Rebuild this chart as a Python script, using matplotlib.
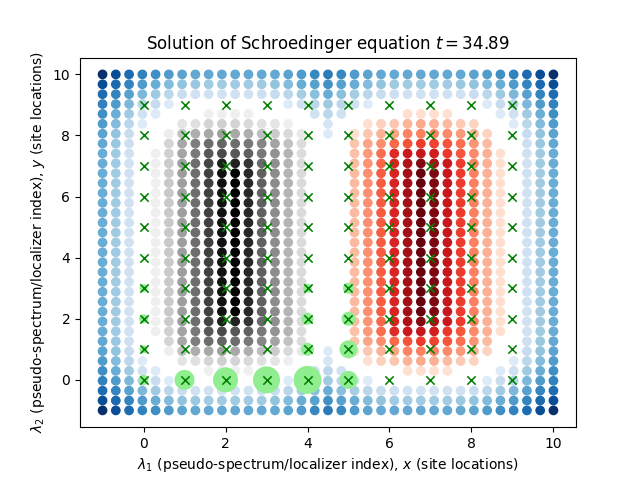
import numpy as np
import matplotlib
matplotlib.use("Agg")
import matplotlib.pyplot as plt

E = "-- -- -- -- -- -- -- -- -- -- -- -- -- -- -- -- -- -- -- -- -- -- -- -- -- -- -- -- --"
MID = "50 36 20 " + E + " 20 36 50"
R7 = "52 38 21 " + E + " 21 38 52"
R6 = "54 40 24 -- -- -- -- -- -- -- -- -- -- -- -- -- -- 13 -- -- -- -- -- -- -- -- -- -- -- -- -- -- 24 40 54"
R5 = "58 44 29 13 -- -- -- -- -- -- -- -- -- -- -- -- -- 16 -- -- -- -- -- -- -- -- -- -- -- -- -- 13 29 44 58"
R4 = "63 50 37 20 13 -- -- -- -- -- -- -- -- -- -- -- 20 28 20 -- -- -- -- -- -- -- -- -- -- -- 13 20 37 50 63"
R3 = "68 58 45 30 24 13 -- -- -- -- -- -- -- -- 13 20 28 37 28 20 13 -- -- -- -- -- -- -- -- 13 24 30 45 58 68"
R2 = "76 67 55 45 37 29 23 20 20 20 20 20 21 24 29 35 42 50 42 35 29 24 21 20 20 20 20 20 23 29 37 45 55 67 76"
R1 = "88 77 67 58 50 44 40 38 36 36 36 36 36 40 44 50 55 62 55 50 44 40 36 36 36 36 36 38 40 44 50 58 67 77 88"
R0 = "99 88 76 68 63 58 54 52 52 52 52 52 52 52 54 58 66 70 66 58 54 52 52 52 52 52 52 52 54 58 63 68 76 88 99"

blue_rows = [R0, R1, R2, R3, R4, R5, R6, R7,
             MID, MID, MID, MID, MID, MID, MID, MID, MID, MID,
             MID, MID, MID, MID, MID, MID, MID, MID, MID,
             R7, R6, R5, R4, R3, R2, R1, R0]

G4 = "-- -- -- -- 13 13 13 13 -- -- -- --"
G5 = "-- -- 19 21 27 29 27 25 21 19 13 --"
G6 = "-- 14 35 42 44 47 44 42 37 31 25 17"
G7 = "-- 27 44 58 64 67 64 60 55 45 35 23"
G8 = "13 29 45 60 72 76 72 69 60 51 40 23"
G9 = "13 31 47 64 78 89 88 82 66 52 40 24"
GM = "13 32 47 64 79 93 99 86 69 53 40 24"
grey_rows = [G4, G5, G6, G7, G8, G9,
             GM, GM, GM, GM, GM, GM, GM, GM, GM, GM, GM, GM, GM, GM, GM,
             G9, G8, G7, G6, G5, G4]

H4 = "-- -- -- -- 13 13 13 12 -- -- -- --"
H5 = "-- 13 18 21 27 30 28 25 20 17 -- --"
H6 = "13 21 28 32 42 43 42 40 35 28 17 --"
H7 = "22 32 39 50 56 62 60 55 48 37 25 --"
H8 = "23 35 48 68 74 76 72 63 55 40 28 13"
H9 = "25 37 50 70 83 93 85 75 62 43 28 13"
HM = "25 38 53 70 87 99 94 76 62 43 28 13"
red_rows = [H4, H5, H6, H7, H8, H9,
            HM, HM, HM, HM, HM, HM, HM, HM, HM, HM, HM, HM, HM, HM, HM,
            H9, H8, H7, H6, H5, H4]

site_x = [0, 1, 2, 3, 4, 5, 0, 4, 5, 0, 4, 5, 0, 4, 5]
site_y = [0, 0, 0, 0, 0, 0, 1, 1, 1, 2, 2, 2, 3, 3, 3]
site_size = [52, 207, 324, 378, 406, 168, 33, 88, 168, 42, 75, 102, 33, 42, 63]
site_labels = list(range(10))

lam = np.linspace(-1, 10, 35)


def draw(ax, rows, col0, row0, cmap):
    xs, ys, vs = [], [], []
    for j, row in enumerate(rows):
        for i, tok in enumerate(row.split()):
            if tok != "--":
                xs.append(lam[col0 + i])
                ys.append(lam[::-1][row0 + j])
                vs.append(int(tok))
    ax.scatter(xs, ys, c=vs, cmap=cmap, vmin=0, vmax=99)


fig, ax = plt.subplots(figsize=(6.4, 4.8), dpi=100)
draw(ax, blue_rows, 0, 0, "Blues")
draw(ax, grey_rows, 4, 4, "Greys")
draw(ax, red_rows, 19, 4, "Reds")
ax.scatter(site_x, site_y, s=site_size, color="lightgreen", linewidths=0)
gx, gy = np.meshgrid(site_labels, site_labels)
ax.scatter(gx.ravel(), gy.ravel(), marker="x", color="green", linewidths=1.15)
ax.set_xlabel(r"$\lambda_1$ (pseudo-spectrum/localizer index), $x$ (site locations)")
ax.set_ylabel(r"$\lambda_2$ (pseudo-spectrum/localizer index), $y$ (site locations)")
ax.set_title(r"Solution of Schroedinger equation $t = 34.89$")
fig.savefig("out.png", dpi=100)
